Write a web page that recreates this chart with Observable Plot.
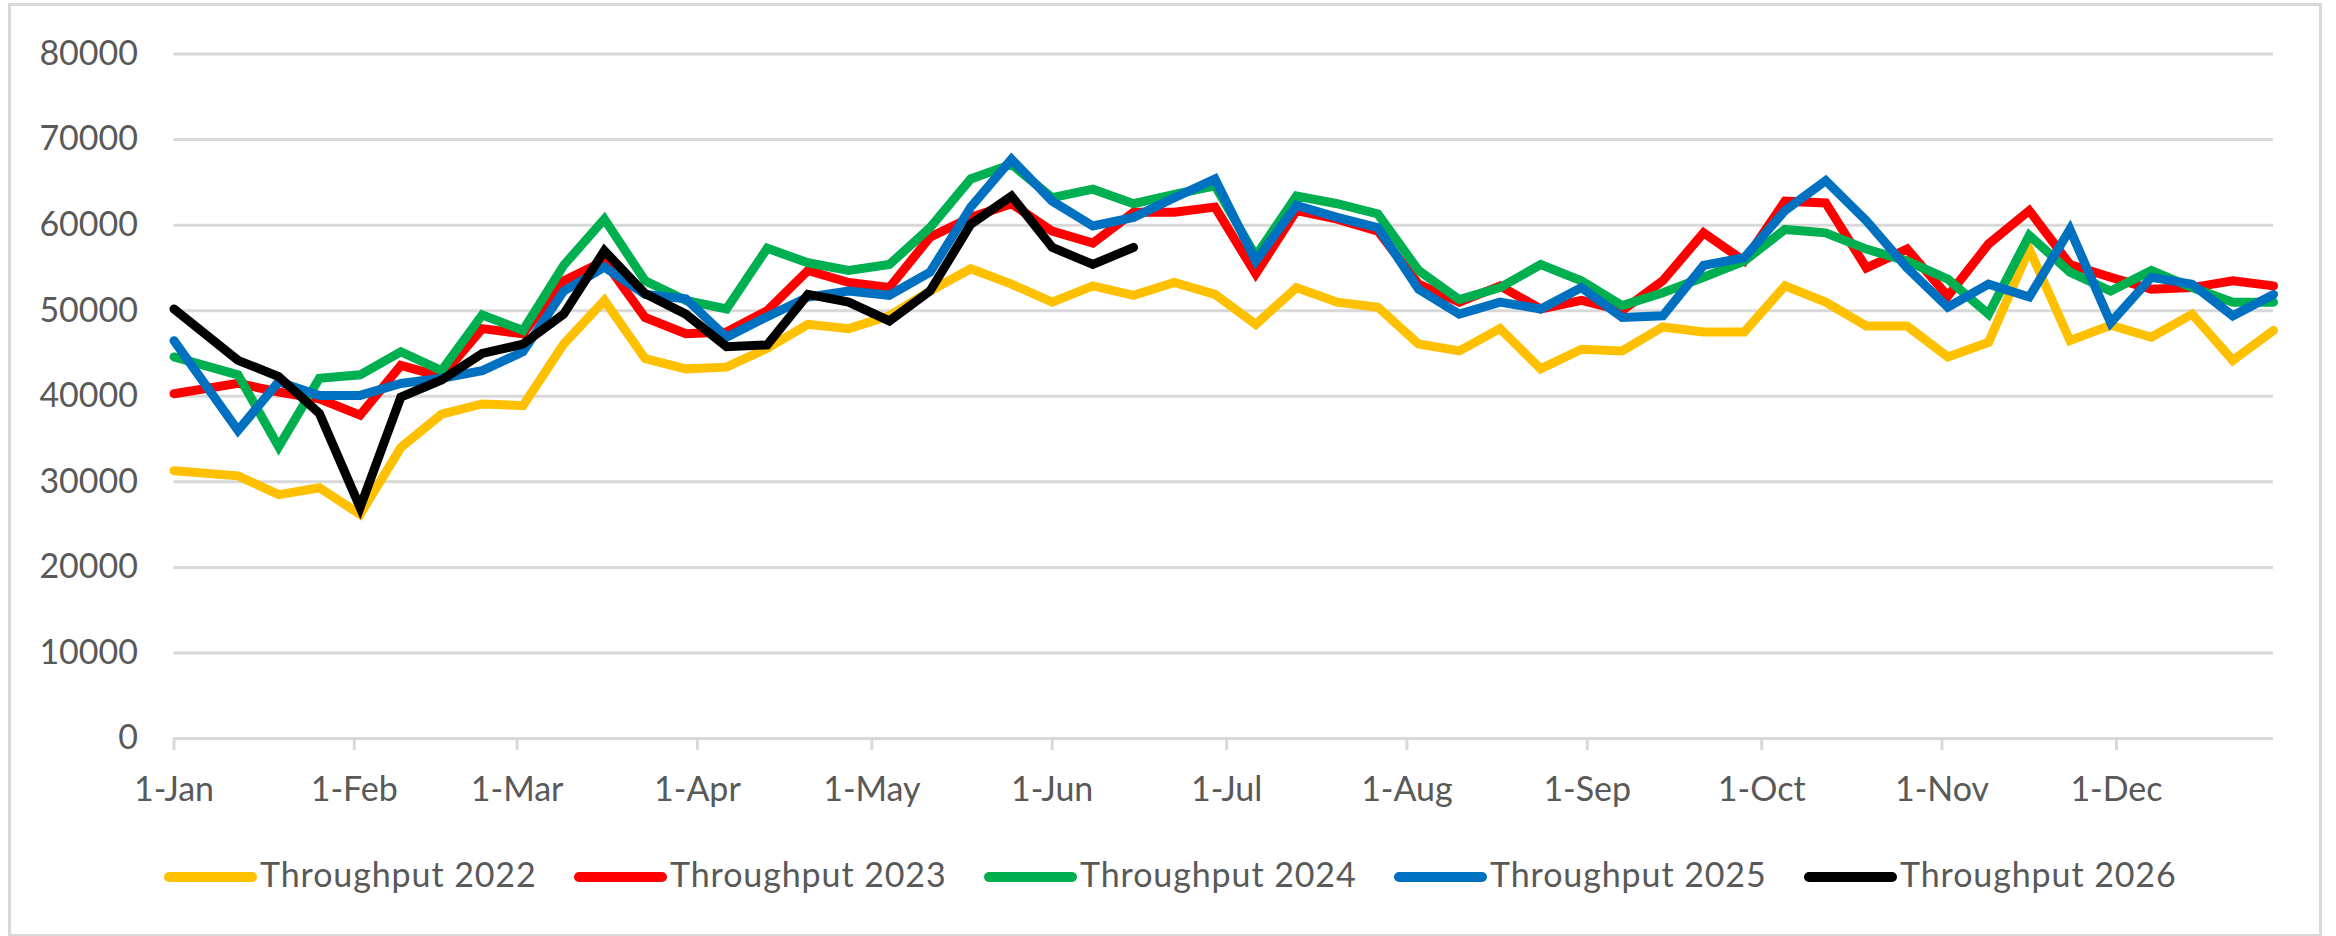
<!DOCTYPE html>
<html>
<head>
<meta charset="utf-8">
<script src="https://cdn.jsdelivr.net/npm/d3@7"></script>
<script src="https://cdn.jsdelivr.net/npm/@observablehq/plot@0.6"></script>
<style>
  html, body { margin: 0; padding: 0; background: #ffffff; }
  #wrap { position: relative; width: 2336px; height: 936px; overflow: hidden; font-family: Lato, "Open Sans", sans-serif; }
  #frame { position: absolute; left: 8px; top: 3px; width: 2314px; height: 933px; box-sizing: border-box; border: 3px solid #d9d9d9; border-bottom-width: 2px; }
  #chart { position: absolute; left: 0; top: 0; }
  .item { position: absolute; top: 857px; height: 34px; display: flex; align-items: center; font-size: 34px; line-height: 34px; color: #595959; white-space: nowrap; letter-spacing: 0.9px; }
  .sw { width: 93px; height: 10px; border-radius: 5px; margin-right: 3px; position: relative; top: 3px; }
</style>
</head>
<body>
<div id="wrap">
  <div id="frame"></div>
  <div id="chart"></div>
  <div id="legend"></div>
</div>
<script>
// ---- data ----
const weekDates = [
  "2021-01-01","2021-01-12","2021-01-19","2021-01-26","2021-02-02","2021-02-09","2021-02-16","2021-02-23",
  "2021-03-02","2021-03-09","2021-03-16","2021-03-23","2021-03-30","2021-04-06","2021-04-13","2021-04-20",
  "2021-04-27","2021-05-04","2021-05-11","2021-05-18","2021-05-25","2021-06-01","2021-06-08","2021-06-15",
  "2021-06-22","2021-06-29","2021-07-06","2021-07-13","2021-07-20","2021-07-27","2021-08-03","2021-08-10",
  "2021-08-17","2021-08-24","2021-08-31","2021-09-07","2021-09-14","2021-09-21","2021-09-28","2021-10-05",
  "2021-10-12","2021-10-19","2021-10-26","2021-11-02","2021-11-09","2021-11-16","2021-11-23","2021-11-30",
  "2021-12-07","2021-12-14","2021-12-21","2021-12-28"
];
const seriesNames = ["Throughput 2022","Throughput 2023","Throughput 2024","Throughput 2025","Throughput 2026"];
const seriesColors = ["#FFC000","#FF0000","#00B050","#0070C0","#000000"];

const throughput2022 = [31300,30700,28500,29300,26200,34000,37900,39100,38900,46100,
  51200,44400,43200,43400,45600,48400,47900,49400,52300,54900,
  53100,51000,52900,51800,53300,51900,48400,52700,51000,50400,
  46100,45300,47900,43200,45500,45300,48100,47500,47500,52900,
  51000,48200,48200,44600,46300,57200,46500,48300,46900,49600,
  44200,47700];
const throughput2023 = [40300,41500,40500,39700,37800,43600,42300,47900,47300,53500,
  55800,49200,47300,47500,50000,54700,53300,52700,58600,60900,
  62500,59300,57900,61500,61500,62100,54300,61700,60700,59300,
  53100,51000,52900,50200,51200,50000,53500,59100,55800,62800,
  62600,55000,57200,51700,57800,61700,55400,53900,52500,52700,
  53500,52900];
const throughput2024 = [44600,42500,34100,42100,42500,45200,43000,49500,47700,55300,
  60700,53500,51200,50200,57300,55600,54700,55400,59700,65400,
  67100,63200,64200,62500,63600,64600,56400,63400,62500,61300,
  54700,51300,52700,55400,53500,50600,52100,53900,55800,59500,
  59100,57200,55800,53700,49600,58800,54500,52300,54700,52700,
  51000,51000];
const throughput2025 = [46500,36000,41700,40100,40100,41500,42100,43000,45200,52300,
  55100,51900,51400,46900,49300,51600,52300,51800,54500,62100,
  67700,62800,59900,60900,63200,65400,55800,62300,60900,59700,
  52500,49600,51000,50200,52700,49200,49400,55300,56200,61700,
  65200,60500,55000,50400,53100,51600,59500,48600,53900,53100,
  49400,51900];
const throughput2026 = [50200,44200,42300,38000,27000,39900,41900,45000,46100,49600,
  57000,52000,49600,45800,46000,51900,51000,48800,52300,60100,
  63400,57400,55400,57400];

const monthTicks = ["2021-01-01","2021-02-01","2021-03-01","2021-04-01","2021-05-01","2021-06-01",
  "2021-07-01","2021-08-01","2021-09-01","2021-10-01","2021-11-01","2021-12-01"];
const yTicks = [0,10000,20000,30000,40000,50000,60000,70000,80000];
const xStart = "2021-01-01", xEnd = "2021-12-28";

// ---- build table ----
const allSeries = [throughput2022, throughput2023, throughput2024, throughput2025, throughput2026];
const rows = [];
allSeries.forEach((vals, s) => vals.forEach((v, i) => rows.push({date: new Date(weekDates[i]), value: v, series: seriesNames[s]})));

const fmt = d3.utcFormat("%-d-%b");

const chart = Plot.plot({
  width: 2336,
  height: 820,
  marginLeft: 173.5,
  marginRight: 63,
  marginTop: 53.5,
  marginBottom: 82,
  style: {fontFamily: "Lato, 'Open Sans', sans-serif", fontSize: "34px", color: "#595959", background: "transparent", overflow: "visible"},
  x: {type: "utc", domain: [new Date(xStart), new Date(xEnd)]},
  y: {domain: [0, 80000]},
  color: {domain: seriesNames, range: seriesColors},
  marks: [
    Plot.gridY(yTicks, {stroke: "#d9d9d9", strokeWidth: 3, strokeOpacity: 1}),
    Plot.axisY(yTicks, {tickSize: 0, tickPadding: 36, tickFormat: d => String(d), label: null}),
    Plot.axisX(monthTicks.map(d => new Date(d)), {tickSize: 12, tickPadding: 26, tickFormat: fmt, stroke: "#d9d9d9", strokeWidth: 3, strokeOpacity: 1, label: null}),
    Plot.line(rows, {x: "date", y: "value", z: "series", stroke: "series", strokeWidth: 9, strokeLinejoin: "miter", strokeMiterlimit: 4, strokeLinecap: "round"})
  ]
});
document.getElementById("chart").appendChild(chart);

// ---- legend ----
const legend = document.getElementById("legend");
seriesNames.forEach((name, i) => {
  const item = document.createElement("div");
  item.className = "item";
  item.style.left = (164 + 410 * i) + "px";
  const sw = document.createElement("span");
  sw.className = "sw";
  sw.style.background = seriesColors[i];
  const tx = document.createElement("span");
  tx.textContent = name;
  item.appendChild(sw);
  item.appendChild(tx);
  legend.appendChild(item);
});
</script>
</body>
</html>
